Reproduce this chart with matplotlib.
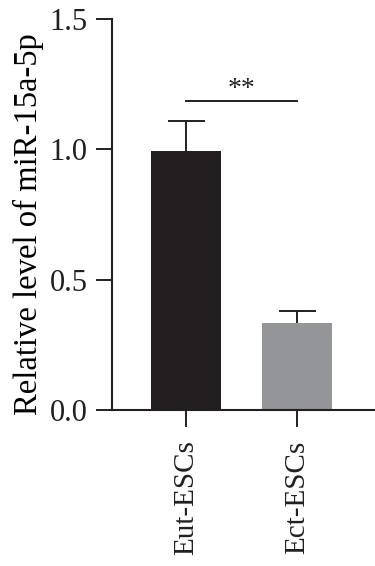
import matplotlib
matplotlib.use("Agg")
import matplotlib.pyplot as plt

categories = ["Eut-ESCs", "Ect-ESCs"]
values = [0.992, 0.333]
errors = [0.117, 0.048]
colors = ["#231f20", "#939598"]
sig_y = 1.186
sig_text = "**"
yticks = [0.0, 0.5, 1.0, 1.5]
ytick_labels = ["0.0", "0.5", "1.0", "1.5"]
ylabel = "Relative level of miR-15a-5p"

plt.rcParams['font.family'] = ['Liberation Serif', 'DejaVu Serif']

fig = plt.figure(figsize=(3.75, 5.66), dpi=100)
ax = fig.add_axes([112/375, (566-410)/566, 1-112/375, (410-19)/566])

x = list(range(len(categories)))
ax.bar(x, values, width=0.63, color=colors, edgecolor='none', zorder=2)
cap_half = 0.167
for xi, v, e in zip(x, values, errors):
    ax.vlines(xi, v, v + e, color='#231f20', lw=1.4, zorder=1)
    ax.hlines(v + e, xi - cap_half, xi + cap_half, color='#231f20', lw=1.4, zorder=1)

ax.plot([x[0], x[1]], [sig_y, sig_y], color='#231f20', lw=1.4, clip_on=False)
ax.text((x[0]+x[1])/2, sig_y + 0.02, sig_text, ha='center', va='baseline', fontsize=20,
        color='#231f20')

ax.set_xlim(-0.667, 1.70)
ax.set_ylim(0, 1.5)
ax.set_yticks(yticks)
ax.set_yticklabels(ytick_labels, fontsize=22)
ax.set_xticks(x)
ax.set_xticklabels(categories, rotation=90, fontsize=21)
ax.set_ylabel(ylabel, fontsize=23.5, labelpad=4, y=0.476)

for s in ['top', 'right']:
    ax.spines[s].set_visible(False)
for s in ['left', 'bottom']:
    ax.spines[s].set_linewidth(1.5)
    ax.spines[s].set_color('#231f20')
ax.tick_params(axis='y', length=11.5, width=1.4, color='#231f20', pad=6, labelcolor='#231f20')
ax.tick_params(axis='x', length=12, width=1.4, color='#231f20', pad=10, labelcolor='#231f20')

fig.savefig("out.png", dpi=100)
